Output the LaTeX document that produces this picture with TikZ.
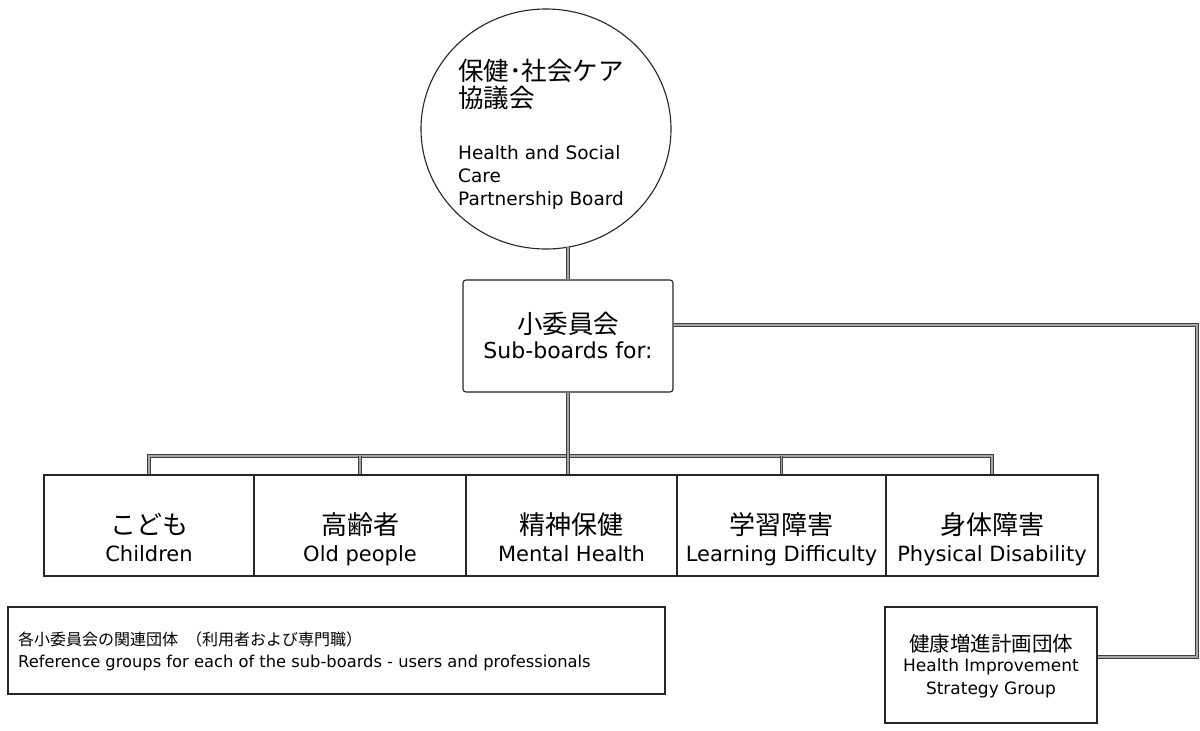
\documentclass[tikz,border=0pt]{standalone}
\usepackage{fontspec}
\usetikzlibrary{shapes.geometric}
\setmainfont{DejaVu Sans}
\newfontfamily\jp{Noto Sans CJK JP}
\begin{document}
\begin{tikzpicture}[x=1pt,y=-1pt,
  box/.style={draw=black!85, line width=1.1pt, inner sep=0pt, fill=white},
  conn/.style={draw=black!75, line width=0.9pt, double=black!35, double distance=1.6pt},
  jpA/.style={font=\jp\fontsize{25.5}{30}\selectfont, inner sep=0pt},
  jpB/.style={font=\jp\fontsize{26}{30}\selectfont, inner sep=0pt},
  jpC/.style={font=\jp\fontsize{20.5}{24}\selectfont, inner sep=0pt},
  jpD/.style={font=\jp\fontsize{16}{20}\selectfont, inner sep=0pt},
  enA/.style={font=\fontsize{18.5}{22}\selectfont, inner sep=0pt},
  enB/.style={font=\fontsize{21}{25}\selectfont, inner sep=0pt},
  enS/.style={font=\fontsize{22}{26}\selectfont, inner sep=0pt},
  enC/.style={font=\fontsize{17}{20}\selectfont, inner sep=0pt},
  enD/.style={font=\fontsize{16.3}{20}\selectfont, inner sep=0pt}]
\useasboundingbox[fill=white] (0,0) rectangle (1200,731);

% top circle
\node[draw=black!85, line width=1.1pt, ellipse, minimum width=250pt, minimum height=240pt, inner sep=0pt] (circ) at (546,129) {};
\node[jpA, anchor=base west] (c1) at (458,80) {保健･社会ケア};
\node[jpA, anchor=base west] (c2) at (458,107) {協議会};
\node[enA, anchor=base west] (c3) at (458,159) {Health and Social};
\node[enA, anchor=base west] (c4) at (458,182) {Care};
\node[enA, anchor=base west] (c5) at (458,205) {Partnership Board};

% sub-boards
\node[box, rounded corners=3pt, minimum width=210pt, minimum height=112pt] (sub) at (568,336) {};
\node[jpA, anchor=base] (s1) at (568,333) {小委員会};
\node[enS, anchor=base] (s2) at (568,358) {Sub-boards for:};

% five boxes
\node[box, minimum width=210pt, minimum height=101pt] (b1) at (149,525.5) {};
\node[box, minimum width=212pt, minimum height=101pt] (b2) at (360,525.5) {};
\node[box, minimum width=211pt, minimum height=101pt] (b3) at (571.5,525.5) {};
\node[box, minimum width=209pt, minimum height=101pt] (b4) at (781.5,525.5) {};
\node[box, minimum width=212pt, minimum height=101pt] (b5) at (992,525.5) {};
\node[jpB, anchor=base] (t1a) at (149,534) {こども};
\node[enB, anchor=base] (t1b) at (149,561) {Children};
\node[jpB, anchor=base] (t2a) at (360,534) {高齢者};
\node[enB, anchor=base] (t2b) at (360,561) {Old people};
\node[jpB, anchor=base] (t3a) at (571.5,534) {精神保健};
\node[enB, anchor=base] (t3b) at (571.5,561) {Mental Health};
\node[jpB, anchor=base] (t4a) at (781.5,534) {学習障害};
\node[enB, anchor=base] (t4b) at (781.5,561) {Learning Difficulty};
\node[jpB, anchor=base] (t5a) at (992,534) {身体障害};
\node[enB, anchor=base] (t5b) at (992,561) {Physical Disability};

% reference groups
\node[box, minimum width=657pt, minimum height=87pt] (ref) at (336.5,650.5) {};
\node[jpD, anchor=base west] (r1) at (18,645) {各小委員会の関連団体\hspace{0.5em}（利用者および専門職）};
\node[enD, anchor=base west] (r2) at (18,667) {Reference groups for each of the sub-boards - users and professionals};

% strategy group
\node[box, minimum width=212pt, minimum height=116pt] (hisg) at (991,665) {};
\node[jpC, anchor=base] (h1) at (991,651) {健康増進計画団体};
\node[enC, anchor=base] (h2) at (991,671) {Health Improvement};
\node[enC, anchor=base] (h3) at (991,694) {Strategy Group};

% connectors
\coordinate (cb) at (568,246.5);
\coordinate (bus) at (568,456);
\coordinate (rc) at (1197,325);
\coordinate (rc2) at (1197,657);
\draw[conn] (cb) -- (sub.north);
\draw[conn] (b1.north) |- (bus) -| (b5.north);
\draw[conn] (b2.north) -- (b2.north |- bus);
\draw[conn] (b4.north) -- (b4.north |- bus);
\draw[conn] (sub.south) -- (sub.south |- b3.north);
\draw[conn] (sub.east |- rc) -- (rc) -- (rc2) -- (hisg.east |- rc2);
\end{tikzpicture}
\end{document}
